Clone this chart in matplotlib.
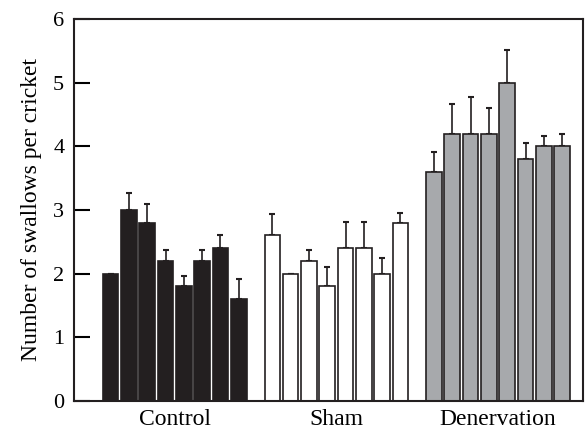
import numpy as np
import matplotlib.pyplot as plt

plt.rcParams['font.family'] = ['Liberation Serif', 'DejaVu Serif']

groups = ["Control", "Sham", "Denervation"]
control = [2.0, 3.0, 2.8, 2.2, 1.8, 2.2, 2.4, 1.6]
control_err = [0.0, 0.26, 0.3, 0.17, 0.17, 0.17, 0.2, 0.32]
sham = [2.6, 2.0, 2.2, 1.8, 2.4, 2.4, 2.0, 2.8]
sham_err = [0.33, 0.0, 0.17, 0.31, 0.41, 0.41, 0.25, 0.16]
denerv = [3.6, 4.2, 4.2, 4.2, 5.0, 3.8, 4.0, 4.0]
denerv_err = [0.31, 0.47, 0.57, 0.4, 0.51, 0.25, 0.17, 0.2]

colors = ["#231f20", "white", "#a7a9ac"]
edge = "#231f20"

fig = plt.figure(figsize=(5.85, 4.32), dpi=100)
ax = fig.add_axes([0.1265, 0.0718, 0.8701, 0.8842])

offset = 8.83
for g, (vals, errs) in enumerate([(control, control_err), (sham, sham_err), (denerv, denerv_err)]):
    x = np.arange(len(vals)) + g * offset
    ax.bar(x, vals, width=0.85, color=colors[g], edgecolor=edge, linewidth=1.2, zorder=2)
    ax.errorbar(x, vals, yerr=[np.zeros(len(errs)), errs], fmt="none",
                ecolor=edge, elinewidth=1.2, capsize=2.5, capthick=1.5, zorder=1)

ax.set_xlim(-2.0, 25.8)
ax.set_ylim(0, 6)
ax.set_yticks(range(7))
ax.set_xticks([3.5 + g * offset for g in range(3)])
ax.set_xticklabels(groups, fontsize=17)
ax.tick_params(axis="x", length=0, pad=6)
ax.tick_params(axis="y", direction="in", length=11.5, width=1.5, labelsize=16, pad=7)
ax.set_ylabel("Number of swallows per cricket", fontsize=17, labelpad=8)
for s in ax.spines.values():
    s.set_linewidth(1.5)
    s.set_color(edge)

fig.savefig("out.png", dpi=100)
